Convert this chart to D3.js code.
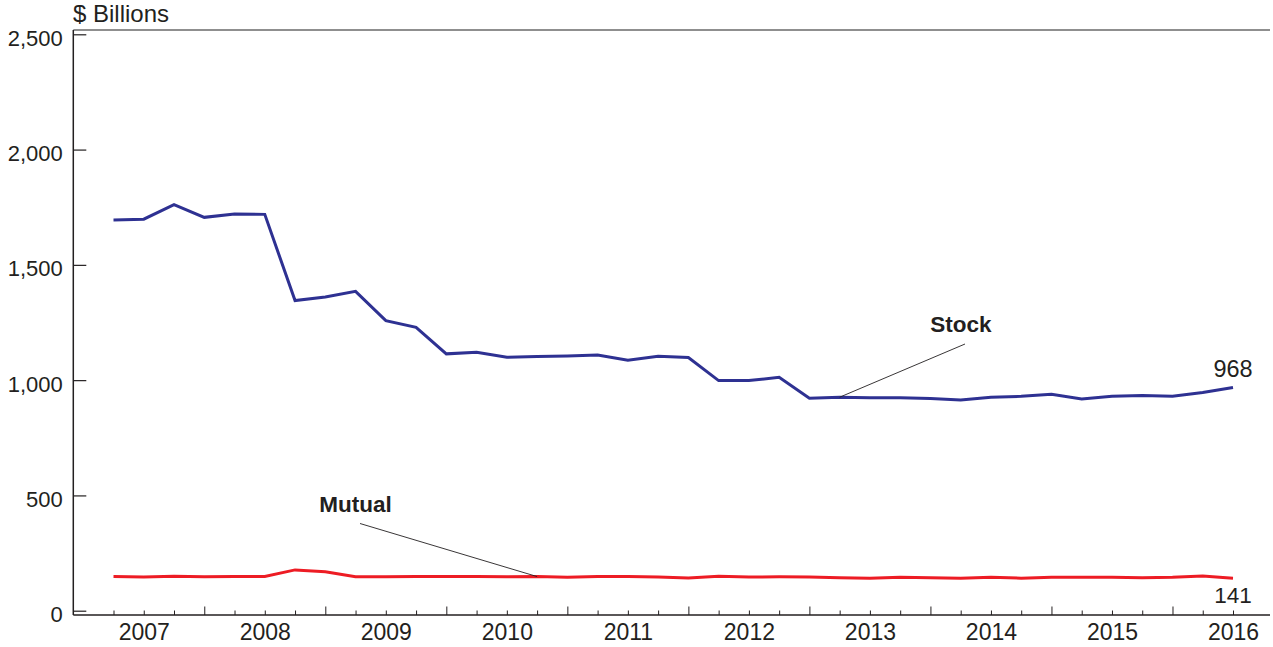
<!DOCTYPE html>
<html>
<head>
<meta charset="utf-8">
<script src="https://cdn.jsdelivr.net/npm/d3@7"></script>
<style>
  html, body { margin: 0; padding: 0; background: #fff; }
  svg { display: block; font-family: "Liberation Sans", Arial, Helvetica, sans-serif; }
</style>
</head>
<body>
<svg id="chart" width="1273" height="647"></svg>
<script>
// ---- Data (quarterly, $ billions) ----
const periods = [
  "2006-Q4",
  "2007-Q1","2007-Q2","2007-Q3","2007-Q4",
  "2008-Q1","2008-Q2","2008-Q3","2008-Q4",
  "2009-Q1","2009-Q2","2009-Q3","2009-Q4",
  "2010-Q1","2010-Q2","2010-Q3","2010-Q4",
  "2011-Q1","2011-Q2","2011-Q3","2011-Q4",
  "2012-Q1","2012-Q2","2012-Q3","2012-Q4",
  "2013-Q1","2013-Q2","2013-Q3","2013-Q4",
  "2014-Q1","2014-Q2","2014-Q3","2014-Q4",
  "2015-Q1","2015-Q2","2015-Q3","2015-Q4",
  "2016-Q1"
];
const stockValues = [
  1695, 1698, 1761, 1706, 1721, 1719, 1345, 1361, 1385, 1258,
  1229, 1114, 1121, 1099, 1102, 1105, 1109, 1086, 1104, 1098,
  998, 998, 1012, 921, 926, 924, 924, 920, 914, 926,
  930, 939, 918, 930, 933, 930, 946, 968
];
const mutualValues = [
  148, 146, 149, 147, 148, 148, 177, 169, 147, 147,
  148, 148, 148, 147, 148, 145, 148, 148, 146, 142,
  149, 146, 147, 146, 143, 141, 145, 143, 141, 145,
  141, 145, 145, 145, 143, 145, 150, 141
];
const yTickValues = [0, 500, 1000, 1500, 2000, 2500];
const yearLabels = ["2007","2008","2009","2010","2011","2012","2013","2014","2015","2016"];

// ---- Layout ----
const svg = d3.select("#chart");
const plotLeft = 73.3, plotRight = 1270, plotTop = 30, axisY = 615;
const textColor = "#231f20";

const x = d3.scalePoint().domain(periods).range([113.5, 1233]);
const y = d3.scaleLinear().domain([0, 2500]).range([610.7, 34.3]);

// Top gray rule
svg.append("line")
  .attr("x1", plotLeft).attr("x2", plotRight)
  .attr("y1", plotTop).attr("y2", plotTop)
  .attr("stroke", "#8f8f8f").attr("stroke-width", 1.8);

// Y axis
const yAxis = d3.axisLeft(y).tickValues(yTickValues)
  .tickFormat(d3.format(",")).tickSizeInner(-13).tickSizeOuter(0).tickPadding(10.5);
const gy = svg.append("g").attr("transform", `translate(${plotLeft},0)`).call(yAxis);
gy.select(".domain").remove();
gy.selectAll(".tick line").attr("stroke", textColor).attr("stroke-width", 1.2);
gy.selectAll(".tick text")
  .attr("fill", textColor).attr("font-size", 22)
  .attr("dy", null).attr("y", 11);
svg.append("line")
  .attr("x1", plotLeft).attr("x2", plotLeft).attr("y1", plotTop).attr("y2", axisY)
  .attr("stroke", textColor).attr("stroke-width", 1.5);

// X axis
const isQ1 = p => p.endsWith("Q1");
const isMajor = p => p.endsWith("Q3");
const xAxis = d3.axisBottom(x).tickValues(periods)
  .tickFormat(p => isQ1(p) ? yearLabels[yearLabels.indexOf(p.slice(0, 4))] : "")
  .tickSizeInner(-4.5).tickSizeOuter(0);
const gx = svg.append("g").attr("transform", `translate(0,${axisY})`).call(xAxis);
gx.select(".domain").remove();
gx.selectAll(".tick line")
  .attr("stroke", textColor).attr("stroke-width", 1)
  .attr("y2", p => isMajor(p) ? -8.5 : -4.5);
gx.selectAll(".tick text")
  .attr("fill", textColor).attr("font-size", 23)
  .attr("dy", null).attr("y", 25);
svg.append("line")
  .attr("x1", plotLeft).attr("x2", plotRight).attr("y1", axisY).attr("y2", axisY)
  .attr("stroke", textColor).attr("stroke-width", 1.5);

// Lines
const line = vals => d3.line().x((d, i) => x(periods[i])).y(d => y(d))(vals);
svg.append("path").attr("d", line(mutualValues))
  .attr("fill", "none").attr("stroke", "#ed1c24").attr("stroke-width", 3)
  .attr("stroke-linejoin", "miter");
svg.append("path").attr("d", line(stockValues))
  .attr("fill", "none").attr("stroke", "#2e3192").attr("stroke-width", 3)
  .attr("stroke-linejoin", "miter");

// Annotations
const stockIdx = periods.indexOf("2012-Q4");
const mutualIdx = periods.indexOf("2010-Q2");
svg.append("line")
  .attr("x1", 965).attr("y1", 344)
  .attr("x2", x(periods[stockIdx])).attr("y2", y(stockValues[stockIdx]))
  .attr("stroke", textColor).attr("stroke-width", 0.9);
svg.append("text").text("Stock")
  .attr("x", 961).attr("y", 332).attr("text-anchor", "middle")
  .attr("font-size", 22.5).attr("font-weight", "bold").attr("fill", textColor);

svg.append("line")
  .attr("x1", 360).attr("y1", 523.5)
  .attr("x2", x(periods[mutualIdx])).attr("y2", y(mutualValues[mutualIdx]))
  .attr("stroke", textColor).attr("stroke-width", 0.9);
svg.append("text").text("Mutual")
  .attr("x", 355.5).attr("y", 512.3).attr("text-anchor", "middle")
  .attr("font-size", 22.5).attr("font-weight", "bold").attr("fill", textColor);

// End value labels
const last = periods.length - 1;
svg.append("text").text(stockValues[last])
  .attr("x", x(periods[last])).attr("y", 377.3).attr("text-anchor", "middle")
  .attr("font-size", 23.5).attr("fill", textColor);
svg.append("text").text(mutualValues[last])
  .attr("x", x(periods[last])).attr("y", 602.7).attr("text-anchor", "middle")
  .attr("font-size", 22.5).attr("fill", textColor);

// Unit label
svg.append("text").text("$ Billions")
  .attr("x", 73).attr("y", 22).attr("font-size", 24).attr("fill", textColor);
</script>
</body>
</html>
